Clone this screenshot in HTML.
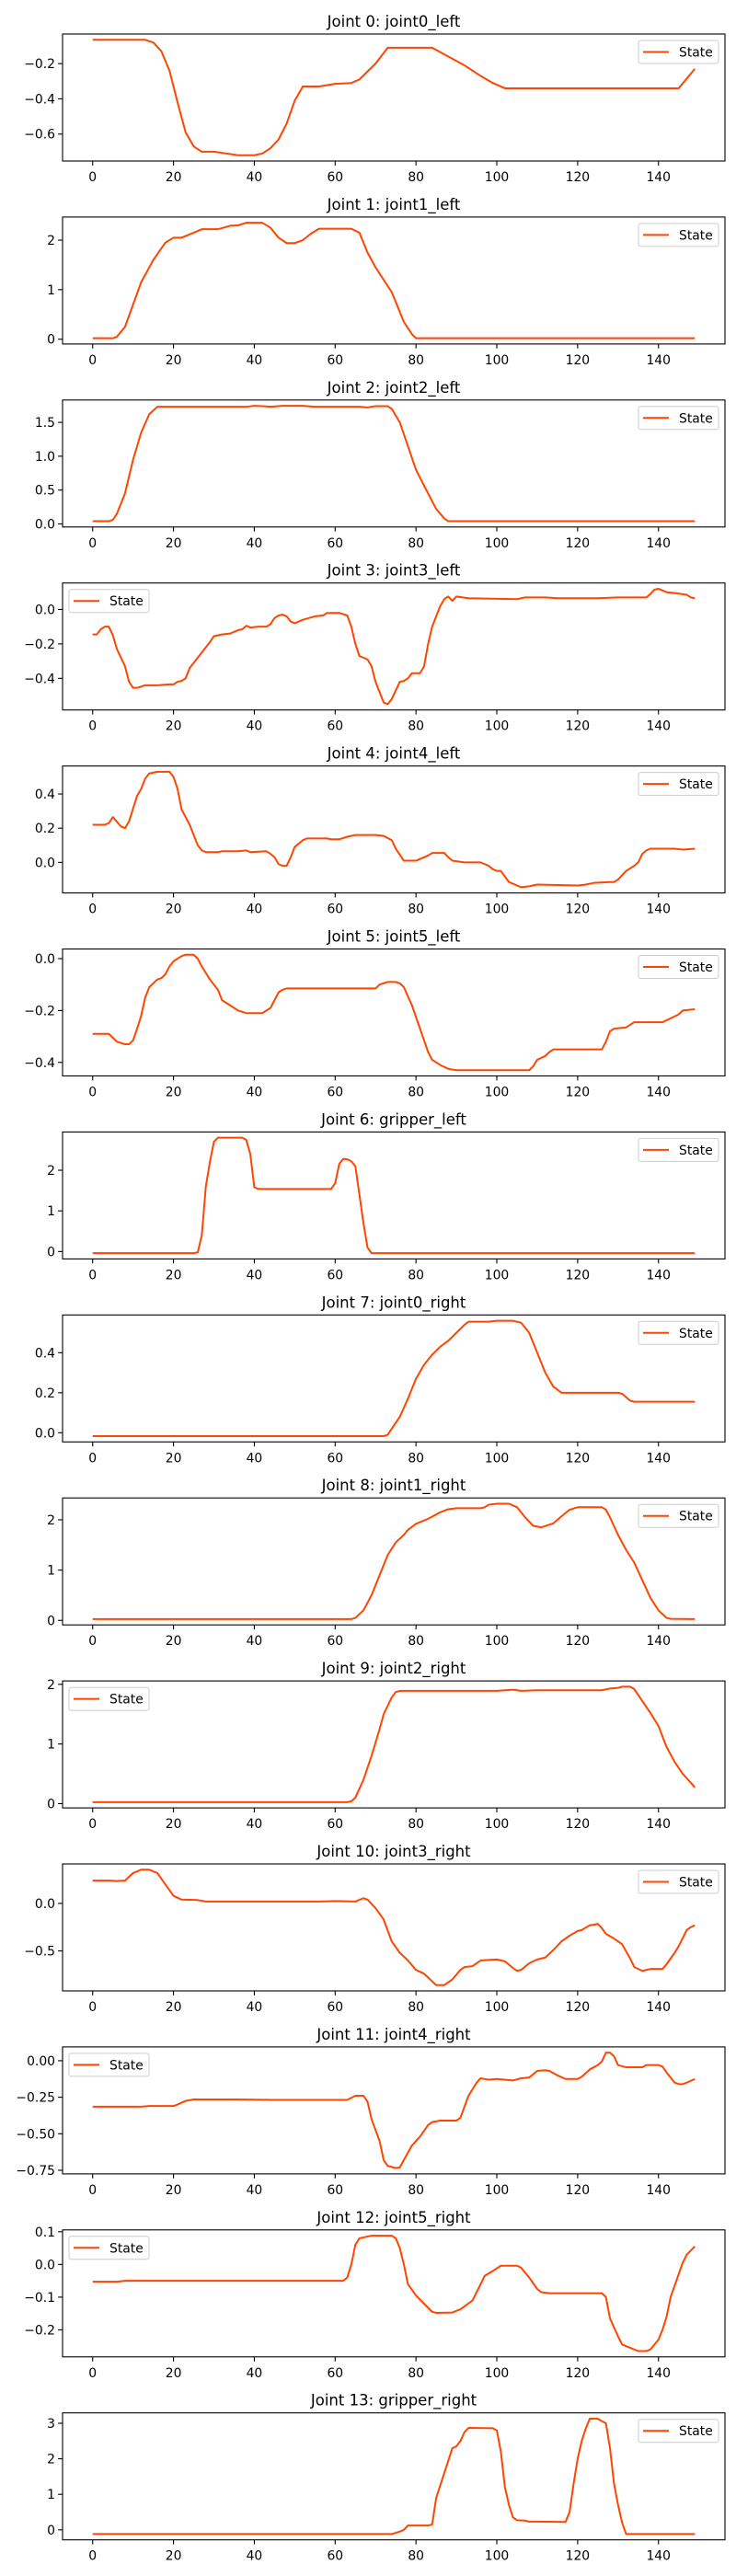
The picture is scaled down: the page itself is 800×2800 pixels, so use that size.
<!DOCTYPE html>
<html><head><meta charset="utf-8"><style>
html,body{margin:0;padding:0;background:#fff;}
svg{display:block;font-family:"DejaVu Sans","Liberation Sans",sans-serif;}
</style></head><body>
<svg id="fig" width="800" height="2800" viewBox="0 0 800 2800" xmlns="http://www.w3.org/2000/svg"></svg>
<script>
const titles=["Joint 0: joint0_left","Joint 1: joint1_left","Joint 2: joint2_left","Joint 3: joint3_left","Joint 4: joint4_left","Joint 5: joint5_left","Joint 6: gripper_left","Joint 7: joint0_right","Joint 8: joint1_right","Joint 9: joint2_right","Joint 10: joint3_right","Joint 11: joint4_right","Joint 12: joint5_right","Joint 13: gripper_right"];
const xTicks=[0,20,40,60,80,100,120,140];
const legendLeft=[false,false,false,true,false,false,false,false,false,true,false,true,true,false];
const yTicks=[[-0.6,-0.4,-0.2],[0,1,2],[0,0.5,1,1.5],[-0.4,-0.2,0],[0,0.2,0.4],[-0.4,-0.2,0],[0,1,2],[0,0.2,0.4],[0,1,2],[0,1,2],[-0.5,0],[-0.75,-0.5,-0.25,0],[-0.2,-0.1,0,0.1],[0,1,2,3]];
const yTickLabels=[["−0.6","−0.4","−0.2"],["0","1","2"],["0.0","0.5","1.0","1.5"],["−0.4","−0.2","0.0"],["0.0","0.2","0.4"],["−0.4","−0.2","0.0"],["0","1","2"],["0.0","0.2","0.4"],["0","1","2"],["0","1","2"],["−0.5","0.0"],["−0.75","−0.50","−0.25","0.00"],["−0.2","−0.1","0.0","0.1"],["0","1","2","3"]];
const s0x=[0,13,15,17,19,21,23,25,27,30,33,36,40,42,44,46,48,50,52,56,60,64,66,70,73,84,88,92,96,99,102,145,149];
const s0y=[-0.065,-0.065,-0.08,-0.13,-0.24,-0.42,-0.59,-0.67,-0.70,-0.70,-0.71,-0.72,-0.72,-0.71,-0.68,-0.63,-0.54,-0.41,-0.33,-0.33,-0.315,-0.31,-0.29,-0.2,-0.11,-0.11,-0.16,-0.21,-0.27,-0.31,-0.34,-0.34,-0.23];
const s1x=[0,5,6,8,10,12,15,18,20,22,25,27,31,34,36,38,42,44,46,48,50,52,54,56,64,66,68,70,74,77,79,80,149];
const s1y=[0.02,0.02,0.05,0.25,0.7,1.15,1.6,1.95,2.05,2.05,2.15,2.22,2.22,2.29,2.3,2.35,2.35,2.25,2.05,1.94,1.94,2.0,2.13,2.23,2.23,2.15,1.75,1.45,0.95,0.35,0.1,0.02,0.02];
const s2x=[0,4,5,6,8,10,12,14,16,38,40,42,44,47,52,55,66,68,70,73,74,76,78,80,83,85,87,88,149];
const s2y=[0.04,0.04,0.06,0.15,0.45,0.95,1.35,1.62,1.73,1.73,1.745,1.74,1.73,1.745,1.745,1.73,1.73,1.72,1.74,1.74,1.7,1.5,1.15,0.8,0.45,0.22,0.08,0.04,0.04];
const s3x=[0,1,2,3,4,5,6,8,9,10,11,13,16,19,20,21,22,23,24,26,28,29,30,32,34,36,37,38,39,41,43,44,45,46,47,48,49,50,52,55,57,58,61,63,64,65,66,68,69,70,72,73,74,76,77,78,79,81,82,83,84,86,87,88,89,90,93,105,107,112,115,125,130,137,138,139,140,142,144,147,148,149];
const s3y=[-0.145,-0.145,-0.115,-0.1,-0.1,-0.15,-0.23,-0.33,-0.42,-0.455,-0.455,-0.44,-0.44,-0.435,-0.435,-0.42,-0.415,-0.4,-0.34,-0.28,-0.22,-0.19,-0.155,-0.145,-0.14,-0.12,-0.115,-0.095,-0.105,-0.1,-0.1,-0.085,-0.05,-0.035,-0.03,-0.04,-0.07,-0.08,-0.06,-0.04,-0.035,-0.02,-0.02,-0.035,-0.1,-0.2,-0.27,-0.29,-0.33,-0.42,-0.54,-0.55,-0.52,-0.42,-0.415,-0.4,-0.37,-0.37,-0.33,-0.2,-0.1,0.02,0.06,0.075,0.05,0.075,0.065,0.06,0.07,0.07,0.065,0.065,0.07,0.07,0.09,0.115,0.12,0.1,0.095,0.085,0.07,0.065];
const s4x=[0,3,4,5,7,8,9,11,12,13,14,16,19,20,21,22,24,25,26,27,28,31,32,36,38,39,43,44,45,46,47,48,49,50,52,53,58,59,61,63,65,70,72,74,75,77,80,81,83,84,87,88,89,92,96,97,98,99,100,101,103,106,108,110,120,122,124,128,129,130,132,134,135,136,137,138,144,146,149];
const s4y=[0.22,0.22,0.23,0.265,0.21,0.2,0.24,0.39,0.43,0.49,0.52,0.53,0.53,0.5,0.43,0.31,0.22,0.16,0.1,0.07,0.06,0.06,0.065,0.065,0.07,0.06,0.065,0.05,0.03,-0.01,-0.02,-0.02,0.03,0.09,0.13,0.14,0.14,0.135,0.135,0.15,0.16,0.16,0.155,0.13,0.08,0.01,0.01,0.02,0.04,0.055,0.055,0.03,0.01,0,0,-0.01,-0.02,-0.04,-0.05,-0.05,-0.115,-0.145,-0.14,-0.13,-0.135,-0.13,-0.12,-0.115,-0.115,-0.1,-0.05,-0.02,0,0.05,0.07,0.08,0.08,0.075,0.08];
const s5x=[0,4,6,8,9,10,11,12,13,14,16,17,18,19,20,22,23,25,26,27,28,29,31,32,34,36,38,42,43,44,45,46,47,48,70,71,73,75,76,77,79,81,83,84,86,88,90,108,109,110,112,113,114,126,127,128,129,132,134,141,143,145,146,149];
const s5y=[-0.29,-0.29,-0.32,-0.33,-0.33,-0.315,-0.27,-0.22,-0.15,-0.11,-0.08,-0.075,-0.06,-0.03,-0.01,0.01,0.015,0.015,0,-0.03,-0.055,-0.08,-0.12,-0.16,-0.18,-0.2,-0.21,-0.21,-0.2,-0.19,-0.16,-0.13,-0.12,-0.115,-0.115,-0.1,-0.09,-0.09,-0.095,-0.11,-0.18,-0.27,-0.36,-0.39,-0.41,-0.425,-0.43,-0.43,-0.415,-0.39,-0.375,-0.36,-0.35,-0.35,-0.32,-0.28,-0.27,-0.265,-0.245,-0.245,-0.23,-0.215,-0.2,-0.195];
const s6x=[0,25,26,27,28,29,30,31,37,38,39,40,41,59,60,61,62,63,64,65,66,67,68,69,149];
const s6y=[-0.04,-0.04,-0.02,0.4,1.6,2.2,2.7,2.8,2.8,2.75,2.4,1.58,1.54,1.54,1.68,2.15,2.28,2.27,2.22,2.1,1.4,0.7,0.1,-0.04,-0.04];
const s7x=[0,72,73,74,76,78,80,82,84,86,88,90,92,93,98,100,104,106,108,110,112,114,116,117,130,131,133,134,149];
const s7y=[-0.017,-0.017,-0.01,0.02,0.08,0.17,0.27,0.34,0.39,0.43,0.46,0.5,0.54,0.555,0.555,0.56,0.56,0.55,0.5,0.4,0.3,0.23,0.2,0.2,0.2,0.195,0.16,0.155,0.155];
const s8x=[0,64,65,67,69,71,73,75,77,78,80,83,86,88,90,96,97,98,100,103,105,107,109,111,114,116,118,120,126,127,128,130,132,134,136,138,140,142,143,149];
const s8y=[0.025,0.025,0.05,0.2,0.5,0.9,1.3,1.55,1.7,1.8,1.92,2.02,2.15,2.21,2.23,2.23,2.25,2.3,2.32,2.32,2.25,2.05,1.88,1.85,1.93,2.07,2.2,2.25,2.25,2.2,2.05,1.7,1.4,1.15,0.8,0.45,0.2,0.05,0.03,0.025];
const s9x=[0,63,64,65,67,69,71,72,74,75,76,100,104,106,110,126,128,130,131,133,134,136,138,140,142,144,146,148,149];
const s9y=[0.025,0.025,0.04,0.1,0.4,0.8,1.25,1.5,1.78,1.87,1.89,1.89,1.91,1.89,1.9,1.9,1.93,1.94,1.96,1.96,1.92,1.72,1.52,1.3,0.95,0.7,0.5,0.35,0.27];
const s10x=[0,4,6,8,10,12,14,16,18,20,22,26,28,40,50,56,60,65,67,68,70,72,74,76,78,80,82,84,85,87,89,91,92,94,96,100,102,104,105,106,108,110,112,114,116,118,120,121,123,124,125,126,127,129,131,133,134,136,138,141,142,144,145,147,148,149];
const s10y=[0.24,0.24,0.235,0.24,0.32,0.355,0.355,0.32,0.2,0.08,0.04,0.035,0.02,0.02,0.02,0.02,0.025,0.02,0.055,0.04,-0.05,-0.17,-0.4,-0.52,-0.6,-0.7,-0.74,-0.82,-0.86,-0.86,-0.8,-0.7,-0.67,-0.66,-0.6,-0.59,-0.61,-0.68,-0.71,-0.7,-0.63,-0.59,-0.57,-0.49,-0.4,-0.34,-0.29,-0.28,-0.23,-0.225,-0.215,-0.26,-0.32,-0.37,-0.43,-0.58,-0.67,-0.71,-0.69,-0.69,-0.64,-0.52,-0.45,-0.28,-0.25,-0.23];
const s11x=[0,12,14,20,21,23,25,35,45,63,65,67,68,69,71,72,73,75,76,77,79,81,83,84,86,90,91,93,95,96,98,100,104,106,108,110,112,113,115,117,120,121,123,125,126,127,128,129,130,132,136,137,140,141,142,144,145,146,147,149];
const s11y=[-0.315,-0.315,-0.31,-0.31,-0.3,-0.275,-0.265,-0.265,-0.268,-0.268,-0.24,-0.24,-0.28,-0.4,-0.55,-0.68,-0.72,-0.735,-0.73,-0.68,-0.58,-0.52,-0.44,-0.42,-0.41,-0.41,-0.39,-0.24,-0.15,-0.12,-0.13,-0.125,-0.135,-0.12,-0.115,-0.07,-0.065,-0.07,-0.1,-0.125,-0.125,-0.11,-0.06,-0.03,-0.005,0.055,0.055,0.03,-0.03,-0.045,-0.045,-0.03,-0.03,-0.04,-0.08,-0.15,-0.16,-0.16,-0.15,-0.125];
const s12x=[0,6,8,62,63,64,65,66,69,74,75,76,77,78,80,82,84,85,89,91,94,96,97,99,101,105,106,108,110,111,113,126,127,128,130,131,132,133,134,135,137,138,140,141,142,143,145,146,147,149];
const s12y=[-0.053,-0.053,-0.05,-0.05,-0.04,0,0.06,0.08,0.088,0.088,0.08,0.05,0,-0.06,-0.095,-0.12,-0.145,-0.148,-0.147,-0.137,-0.11,-0.06,-0.035,-0.02,-0.004,-0.004,-0.01,-0.04,-0.075,-0.085,-0.088,-0.088,-0.1,-0.165,-0.22,-0.245,-0.25,-0.255,-0.26,-0.265,-0.265,-0.26,-0.23,-0.2,-0.16,-0.1,-0.03,0.005,0.03,0.055];
const s13x=[0,74,76,77,78,83,84,85,87,89,90,91,92,93,99,100,101,102,103,104,105,107,108,110,117,118,119,120,121,122,123,125,126,127,128,129,130,131,132,149];
const s13y=[-0.12,-0.12,-0.05,0,0.12,0.12,0.15,0.9,1.6,2.3,2.35,2.5,2.75,2.87,2.86,2.8,2.2,1.2,0.7,0.35,0.27,0.26,0.23,0.23,0.22,0.5,1.3,2.0,2.5,2.85,3.13,3.13,3.06,3.0,2.3,1.3,0.7,0.2,-0.12,-0.12];
const seriesX=[s0x,s1x,s2x,s3x,s4x,s5x,s6x,s7x,s8x,s9x,s10x,s11x,s12x,s13x];
const seriesY=[s0y,s1y,s2y,s3y,s4y,s5y,s6y,s7y,s8y,s9y,s10y,s11y,s12y,s13y];

const NS="http://www.w3.org/2000/svg";
const fig=document.getElementById('fig');
function mk(tag,attrs,parent){const e=document.createElementNS(NS,tag);for(const k in attrs)e.setAttribute(k,attrs[k]);(parent||fig).appendChild(e);return e;}
const AX_L=68,AX_R=788,AX_H=138,PITCH=198.9,TOP0=37;
const xMin=-7.45,xMax=156.45;
function xScale(v){return AX_L+(v-xMin)/(xMax-xMin)*(AX_R-AX_L);}
for(let k=0;k<14;k++){
  const top=TOP0+PITCH*k,bot=top+AX_H;
  const xs=seriesX[k],ys=seriesY[k];
  const mn=Math.min(...ys),mx=Math.max(...ys),pad=(mx-mn)*0.05;
  const yLo=mn-pad,yHi=mx+pad;
  const yScale=v=>bot-(v-yLo)/(yHi-yLo)*AX_H;
  const g=mk('g',{});
  
  
  const t=mk('text',{x:(AX_L+AX_R)/2,y:top-8,'text-anchor':'middle','font-size':'16.5',fill:'#000'},g);
  t.textContent=titles[k];
  
  
  // x ticks
  xTicks.forEach(v=>{
    const x=xScale(v);
    mk('line',{x1:x,x2:x,y1:bot,y2:bot+4.9,stroke:'#000','stroke-width':1.1},g);
    const tl=mk('text',{x:x,y:bot+22,'text-anchor':'middle','font-size':'13.9',fill:'#000'},g);
    tl.textContent=String(v);
    
    
  });
  yTicks[k].forEach((v,i)=>{
    const y=yScale(v);
    mk('line',{x1:AX_L-4.9,x2:AX_L,y1:y,y2:y,stroke:'#000','stroke-width':1.1},g);
    const tl=mk('text',{x:AX_L-8,y:y+5,'text-anchor':'end','font-size':'13.9',fill:'#000'},g);
    tl.textContent=yTickLabels[k][i];
    
    
  });
  const d=xs.map((x,i)=>(i?'L':'M')+xScale(x).toFixed(2)+' '+yScale(ys[i]).toFixed(2)).join(' ');
  const p=mk('path',{d:d,fill:'none',stroke:'#ff4500','stroke-width':2,'stroke-linejoin':'round'},g);
  
  
  const fr=mk('rect',{x:AX_L,y:top,width:AX_R-AX_L,height:AX_H,fill:'none',stroke:'#000','stroke-width':1.1},g);
  
  
  const lx=legendLeft[k]?AX_L+7:AX_R-94;
  const lg=mk('g',{},g);
  
  
  mk('rect',{x:lx,y:top+7,width:87,height:25,rx:2.5,fill:'#fff','fill-opacity':0.8,stroke:'#ccc','stroke-width':1},lg);
  mk('line',{x1:lx+5,x2:lx+33,y1:top+19.5,y2:top+19.5,stroke:'#ff4500','stroke-width':2},lg);
  const lt=mk('text',{x:lx+44,y:top+24.5,'font-size':'13.9',fill:'#000'},lg);
  lt.textContent='State';
  
  
}
</script>
</body></html>
